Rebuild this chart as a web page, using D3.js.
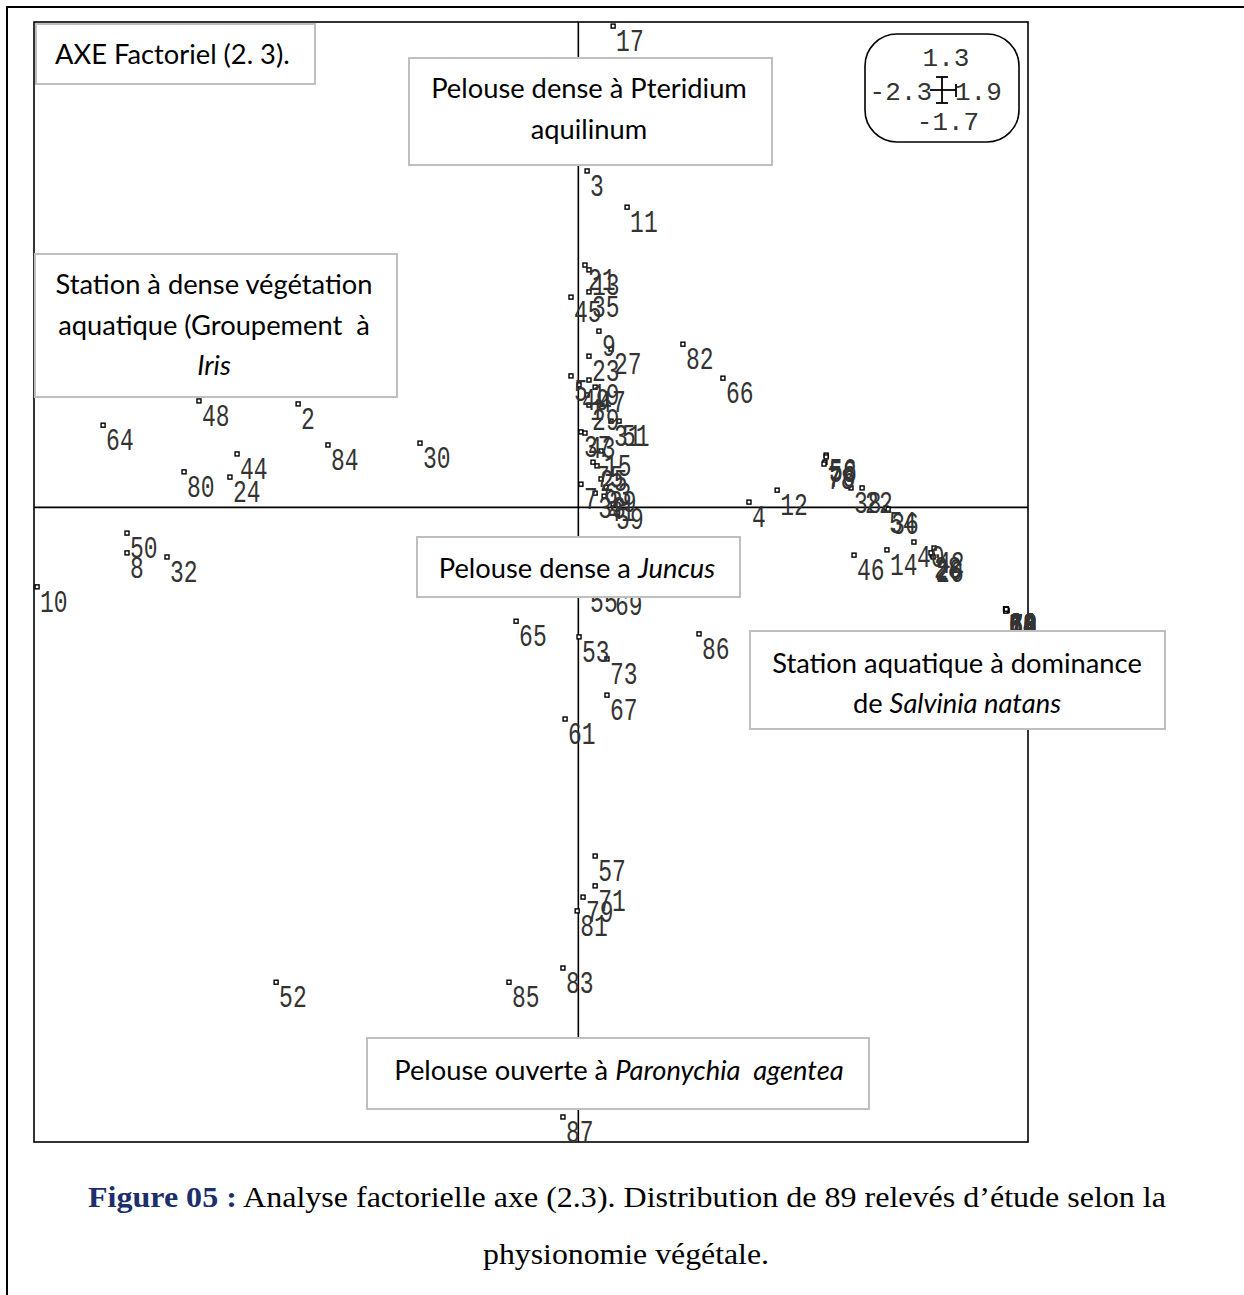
<!DOCTYPE html>
<html><head><meta charset="utf-8">
<script src="https://cdn.jsdelivr.net/npm/d3@7"></script>
<style>
html,body{margin:0;padding:0;background:#fff;}
svg{display:block;}
</style></head>
<body>
<script>
// ---------- DATA (axis 2 = horizontal, axis 3 = vertical) ----------
// Left group (Iris)
const irisIds = ["2","8","10","24","30","32","44","48","50","52","64","80","84"];
const irisAx2 = [-1.184,-1.907,-2.287,-1.472,-0.669,-1.738,-1.442,-1.603,-1.907,-1.277,-2.008,-1.666,-1.058];
const irisAx3 = [0.277,-0.122,-0.213,0.081,0.172,-0.133,0.143,0.285,-0.069,-1.272,0.220,0.095,0.167];

// Central axis, upper part (Pteridium)
const pterIds = ["17","3","11","21","13","35","45","9","27","23"];
const pterAx2 = [0.147,0.037,0.206,0.028,0.045,0.045,-0.031,0.087,0.138,0.045];
const pterAx3 = [1.289,0.901,0.804,0.649,0.636,0.577,0.563,0.472,0.424,0.405];

// Dense cluster near origin (Juncus)
const juncIds = ["5","19","49","47","1","29","31","51","37","43","15","75","25","63","39","7","33","59","41","55","69","77","89"];
const juncAx2 = [-0.031,0.045,0.003,0.071,0.037,0.045,0.138,0.172,0.011,0.028,0.096,0.062,0.079,0.096,0.117,0.011,0.071,0.147,0.109,0.037,0.142,0.092,-0.077];
const juncAx3 = [0.352,0.341,0.328,0.322,0.301,0.274,0.231,0.231,0.202,0.199,0.151,0.121,0.111,0.076,0.054,0.062,0.038,0.009,0.030,-0.213,-0.222,-0.141,-0.128];

// Central axis, lower part (Paronychia)
const paroIds = ["65","53","73","67","61","57","71","79","81","83","85","87"];
const paroAx2 = [-0.263,0.003,0.121,0.121,-0.056,0.071,0.071,0.020,-0.005,-0.065,-0.293,-0.065];
const paroAx3 = [-0.305,-0.347,-0.406,-0.503,-0.567,-0.934,-1.014,-1.044,-1.081,-1.234,-1.272,-1.633];

// Right group (Salvinia)
const salvIds = ["82","66","86","4","12","56","58","76","78","38","22","54","36","40","42","20","26","28","14","46",
                 "6","16","18","34","60","62","68","70","72","74","88"];
const salvAx2 = [0.442,0.611,0.510,0.721,0.840,1.047,1.047,1.042,1.038,1.152,1.199,1.300,1.309,1.418,1.503,1.495,1.499,1.490,1.304,1.165,
                 1.805,1.807,1.809,1.806,1.808,1.810,1.807,1.809,1.811,1.806,1.808];
const salvAx3 = [0.437,0.346,-0.339,0.014,0.046,0.140,0.135,0.121,0.116,0.052,0.052,-0.002,-0.005,-0.093,-0.109,-0.128,-0.133,-0.122,-0.114,-0.128,
                 -0.272,-0.274,-0.276,-0.273,-0.275,-0.277,-0.272,-0.274,-0.276,-0.278,-0.273];

// Axis bounds (legend)
const xMin = -2.3, xMax = 1.9, yMin = -1.7, yMax = 1.3;

// Annotations
const titleText = "AXE Factoriel (2. 3).";
const captionBold = "Figure 05 :";
const captionRest = " Analyse factorielle axe (2.3). Distribution de 89 relevés d’étude selon la";
const captionLine2 = "physionomie végétale.";

// ---------- DRAW ----------
const W = 1244, H = 1295;
const svg = d3.select("body").append("svg").attr("width", W).attr("height", H);

const x = d3.scaleLinear().domain([xMin, xMax]).range([34, 1028]);
const y = d3.scaleLinear().domain([yMin, yMax]).range([1142, 22]);

// outer page frame (top + left)
svg.append("path").attr("d", `M7,${H} V7 H${W}`).attr("fill","none").attr("stroke","#000").attr("stroke-width",2);

// plot frame
svg.append("rect").attr("x", x(xMin)).attr("y", y(yMax))
  .attr("width", x(xMax)-x(xMin)).attr("height", y(yMin)-y(yMax))
  .attr("fill","none").attr("stroke","#000").attr("stroke-width",1.6);

// axes through origin
svg.append("line").attr("x1", x(0)).attr("x2", x(0)).attr("y1", y(yMax)).attr("y2", y(yMin))
  .attr("stroke","#000").attr("stroke-width",1.6);
svg.append("line").attr("x1", x(xMin)).attr("x2", x(xMax)).attr("y1", y(0)).attr("y2", y(0))
  .attr("stroke","#000").attr("stroke-width",1.6);

function group(ids, a2, a3){ return ids.map((id,i)=>({id, a2:a2[i], a3:a3[i]})); }
const points = [].concat(
  group(irisIds, irisAx2, irisAx3),
  group(pterIds, pterAx2, pterAx3),
  group(juncIds, juncAx2, juncAx3),
  group(paroIds, paroAx2, paroAx3),
  group(salvIds, salvAx2, salvAx3)
);

const gp = svg.append("g");
gp.selectAll("rect.m").data(points).join("rect").attr("class","m")
  .attr("x", d => x(d.a2)-2).attr("y", d => y(d.a3)-2)
  .attr("width",4).attr("height",4)
  .attr("fill","#fff").attr("stroke","#000").attr("stroke-width",1.4);

gp.selectAll("text.l").data(points).join("text").attr("class","l")
  .attr("transform", d => `translate(${x(d.a2)+3},${y(d.a3)+25}) scale(1,1.33)`)
  .attr("font-family","'Liberation Mono', 'Courier New', monospace")
  .attr("font-size", 23).attr("fill","#333")
  .text(d => d.id);

// ---------- text boxes ----------
const boxFont = "Lato, 'Open Sans', sans-serif";
function box(bx, by, bw, bh){
  svg.append("rect").attr("x",bx).attr("y",by).attr("width",bw).attr("height",bh)
    .attr("fill","#fff").attr("stroke","#bfbfbf").attr("stroke-width",2);
}
function line(cx, base, parts, anchor){
  const t = svg.append("text").attr("x",cx).attr("y",base)
    .attr("text-anchor", anchor || "middle")
    .attr("font-family", boxFont).attr("font-size", 27.3).attr("fill","#000")
    .attr("xml:space","preserve").style("white-space","pre");
  parts.forEach(p => {
    const s = t.append("tspan").text(p[0]);
    if (p[1]) s.attr("font-style","italic");
  });
}

box(36,24,279,60);
line(55,64,[[titleText]],"start");

box(409,58,363,107);
line(589,98,[["Pelouse dense à Pteridium"]]);
line(589,139,[["aquilinum"]]);

box(35,254,362,143);
line(214,294,[["Station à dense végétation"]]);
line(214,335,[["aquatique (Groupement  à"]]);
line(214,375,[["Iris",true]]);

box(417,537,323,60);
line(577,578,[["Pelouse dense a "],["Juncus",true]]);

box(750,631,415,98);
line(957,673,[["Station aquatique à dominance"]]);
line(957,713,[["de "],["Salvinia natans",true]]);

box(367,1038,502,71);
line(619,1080,[["Pelouse ouverte à "],["Paronychia  agentea",true]]);

// ---------- legend (axis bounds) ----------
svg.append("rect").attr("x",865).attr("y",34).attr("width",154).attr("height",108)
  .attr("rx",32).attr("ry",32).attr("fill","#fff").attr("stroke","#000").attr("stroke-width",1.6);
const lg = svg.append("g").attr("font-family","'Liberation Mono', monospace").attr("font-size",26).attr("fill","#333");
function ltxt(tx, ty, s, anchor){
  lg.append("text").attr("x",tx).attr("y",ty).attr("text-anchor",anchor).text(s);
}
ltxt(946,66,d3.format(".1f")(yMax),"middle");
ltxt(932,100,"-"+d3.format(".1f")(-xMin),"end");
ltxt(955,100,d3.format(".1f")(xMax),"start");
ltxt(948,130,"-"+d3.format(".1f")(-yMin),"middle");
// cross glyph
const cr = svg.append("g").attr("stroke","#000").attr("stroke-width",1.8);
cr.append("line").attr("x1",942).attr("x2",942).attr("y1",77).attr("y2",103);
cr.append("line").attr("x1",936).attr("x2",948).attr("y1",77).attr("y2",77);
cr.append("line").attr("x1",936).attr("x2",948).attr("y1",103).attr("y2",103);
cr.append("line").attr("x1",930).attr("x2",956).attr("y1",90).attr("y2",90);
cr.append("line").attr("x1",956).attr("x2",956).attr("y1",84).attr("y2",97);

// ---------- caption ----------
const cap = svg.append("text").attr("x",88).attr("y",1207)
  .attr("font-family","'Liberation Serif','Times New Roman',serif").attr("font-size",30)
  .attr("textLength",1078).attr("lengthAdjust","spacingAndGlyphs");
cap.append("tspan").attr("font-weight","bold").attr("fill","#1c2f6b").text(captionBold);
cap.append("tspan").attr("fill","#000").text(captionRest);
svg.append("text").attr("x",626).attr("y",1264).attr("text-anchor","middle")
  .attr("font-family","'Liberation Serif','Times New Roman',serif").attr("font-size",30)
  .attr("textLength",286).attr("lengthAdjust","spacingAndGlyphs")
  .attr("fill","#000").text(captionLine2);
</script>
</body></html>
